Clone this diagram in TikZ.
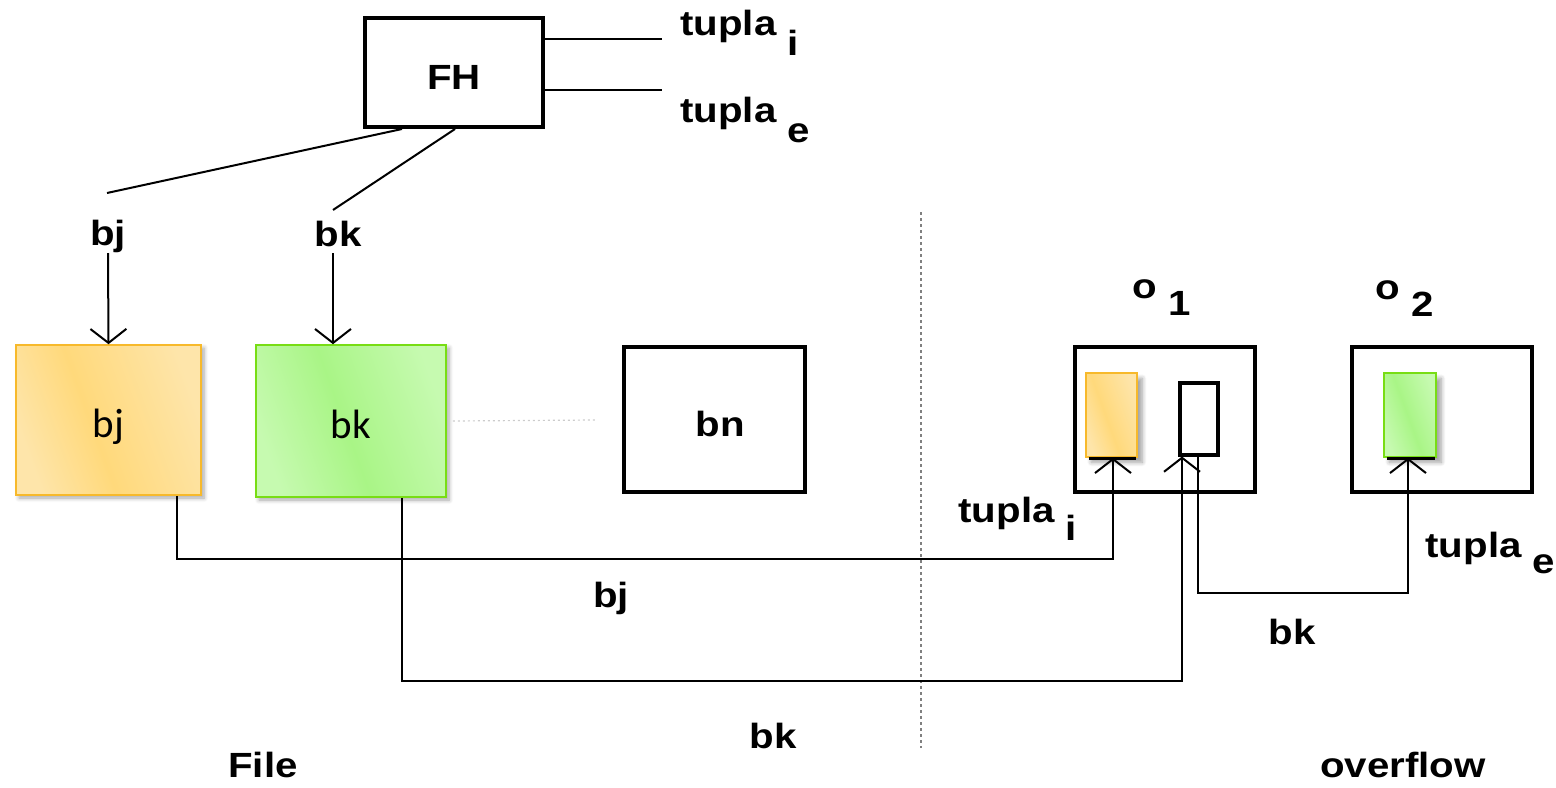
\documentclass[tikz,border=0pt]{standalone}
\usepackage{fontspec}
\setmainfont{Liberation Sans}
\newfontfamily\carlito{Carlito}
\newfontfamily\labfont[FakeStretch=1.15]{Liberation Sans Bold}
\usetikzlibrary{arrows.meta,shadows.blur,calc}
\definecolor{orL}{HTML}{FEE5AA}
\definecolor{orM}{HTML}{FFD97B}
\definecolor{orB}{HTML}{F7B92B}
\definecolor{grL}{HTML}{C6FAB0}
\definecolor{grM}{HTML}{A9F586}
\definecolor{grB}{HTML}{78DD14}
\pgfdeclarehorizontalshading{orsh}{100bp}{color(0bp)=(orL); color(25bp)=(orL); color(45bp)=(orM); color(75bp)=(orL); color(100bp)=(orL)}
\pgfdeclarehorizontalshading{grsh}{100bp}{color(0bp)=(grL); color(25bp)=(grL); color(48bp)=(grM); color(75bp)=(grL); color(100bp)=(grL)}
\tikzset{
  lab/.style={font=\fontsize{17.5}{21}\labfont, inner sep=0pt},
  bbox/.style={draw=black, line width=2pt, inner sep=0pt, font=\fontsize{17.5}{21}\labfont, text height=20pt, text depth=3pt},
  obox/.style={draw=orB, line width=0.8pt, shading=orsh, shading angle=20, inner sep=0pt,
    blur shadow={shadow xshift=1.5pt, shadow yshift=-1.5pt, shadow blur steps=6, shadow opacity=35}},
  gbox/.style={draw=grB, line width=0.8pt, shading=grsh, shading angle=20, inner sep=0pt,
    blur shadow={shadow xshift=1.5pt, shadow yshift=-1.5pt, shadow blur steps=6, shadow opacity=35}},
  conn/.style={draw=black, line width=1pt},
  arr/.style={conn, -{Straight Barb[length=7pt, width=18pt]}},
  incol/.style={font=\fontsize{20.5}{24}\carlito, text height=20pt, text depth=3pt}
}
\begin{document}
\begin{tikzpicture}[x=0.5pt, y=-0.5pt]
\useasboundingbox (0,0) rectangle (1556,787);
% FH
\node[bbox, minimum width=89pt, minimum height=54.5pt] (fh) at (454,72.5) {FH};
\coordinate (ti) at (662,39);
\coordinate (te) at (662,90);
\draw[conn] ([yshift=16.75pt]fh.east) -- (ti);
\draw[conn] ([yshift=-8.75pt]fh.east) -- (te);
\node[lab, anchor=base west] (lti) at (680,35) {tupla \raisebox{-10pt}{i}};
\node[lab, anchor=base west] (lte) at (680,122) {tupla \raisebox{-10pt}{e}};
% diagonal lines
\coordinate (dj) at (107,193);
\coordinate (dk) at (333,210);
\draw[conn] ([xshift=-26pt]fh.south) -- (dj);
\draw[conn] ([xshift=0.5pt]fh.south) -- (dk);
% labels bj bk
\node[lab] (lbj) at (108,236) {bj};
\node[lab] (lbk) at (338,234) {bk};
\coordinate (aj) at (108,253);
\coordinate (ak) at (333,253);
% file boxes
\node[obox, minimum width=92.5pt, minimum height=75pt, incol] (bjb) at (108.5,420) {bj};
\node[gbox, minimum width=95pt, minimum height=76pt, incol] (bkb) at (351,421) {bk};
\node[bbox, minimum width=90.5pt, minimum height=72.5pt] (bnb) at (714.5,419.5) {\hspace{6pt}bn};
\draw[arr] (aj) -- (bjb.north);
\draw[arr] (ak) -- ([xshift=-9pt]bkb.north);
\coordinate (dotend) at (595,420);
\draw[gray!40, line width=0.6pt, dash pattern=on 1pt off 1.5pt] ([xshift=3pt]bkb.east) -- (dotend);
% separator
\coordinate (sepT) at (921,212);
\coordinate (sepB) at (921,748);
\draw[gray, line width=0.6pt, dash pattern=on 1.5pt off 1.5pt] (sepT) -- (sepB);
% overflow boxes
\node[lab, anchor=base west] (lo1) at (1132,298) {o \raisebox{-8.5pt}{1}};
\node[lab, anchor=base west] (lo2) at (1375,299) {o \raisebox{-8.5pt}{2}};
\node[bbox, minimum width=90pt, minimum height=72.5pt] (o1) at (1165,419.5) {};
\node[bbox, minimum width=90pt, minimum height=72.5pt] (o2) at (1442,419.5) {};
\node[obox, minimum width=25.5pt, minimum height=42pt, blur shadow={shadow opacity=20}] (or) at (1111.5,415) {};
\node[gbox, minimum width=26pt, minimum height=42pt, blur shadow={shadow opacity=20}] (gr) at (1410,415) {};
\node[draw=black, line width=2pt, minimum width=19pt, minimum height=36pt, inner sep=0pt] (sb) at (1199,418.5) {};
\draw[black, line width=1.2pt] ([xshift=2pt,yshift=-0.3pt]or.south west) -- ([xshift=-1pt,yshift=-0.3pt]or.south east);
\draw[black, line width=1.2pt] ([xshift=2pt,yshift=-0.3pt]gr.south west) -- ([xshift=-1pt,yshift=-0.3pt]gr.south east);
% connectors
\draw[arr] ([xshift=34.25pt]bjb.south) -- ++(0,63) -| ([xshift=0.75pt]or.south);
\draw[arr] ([xshift=25.5pt]bkb.south) -- ++(0,183) -| ([xshift=-8.5pt]sb.south);
\draw[arr] ([xshift=-0.5pt]sb.south) -- ++(0,136) -| ([xshift=-1pt]gr.south);
% labels
\node[lab, anchor=base west] (lti2) at (958,522) {tupla \raisebox{-9pt}{i}};
\node[lab, anchor=base west] (lte2) at (1425,557) {tupla \raisebox{-8pt}{e}};
\node[lab] (lbj2) at (611,598) {bj};
\node[lab] (lbk2) at (1292,632) {bk};
\node[lab] (lbk3) at (773,736) {bk};
\node[lab, anchor=base] (lfile) at (263,777) {File};
\node[lab, anchor=base] (lover) at (1403,777) {overflow};
\end{tikzpicture}
\end{document}
